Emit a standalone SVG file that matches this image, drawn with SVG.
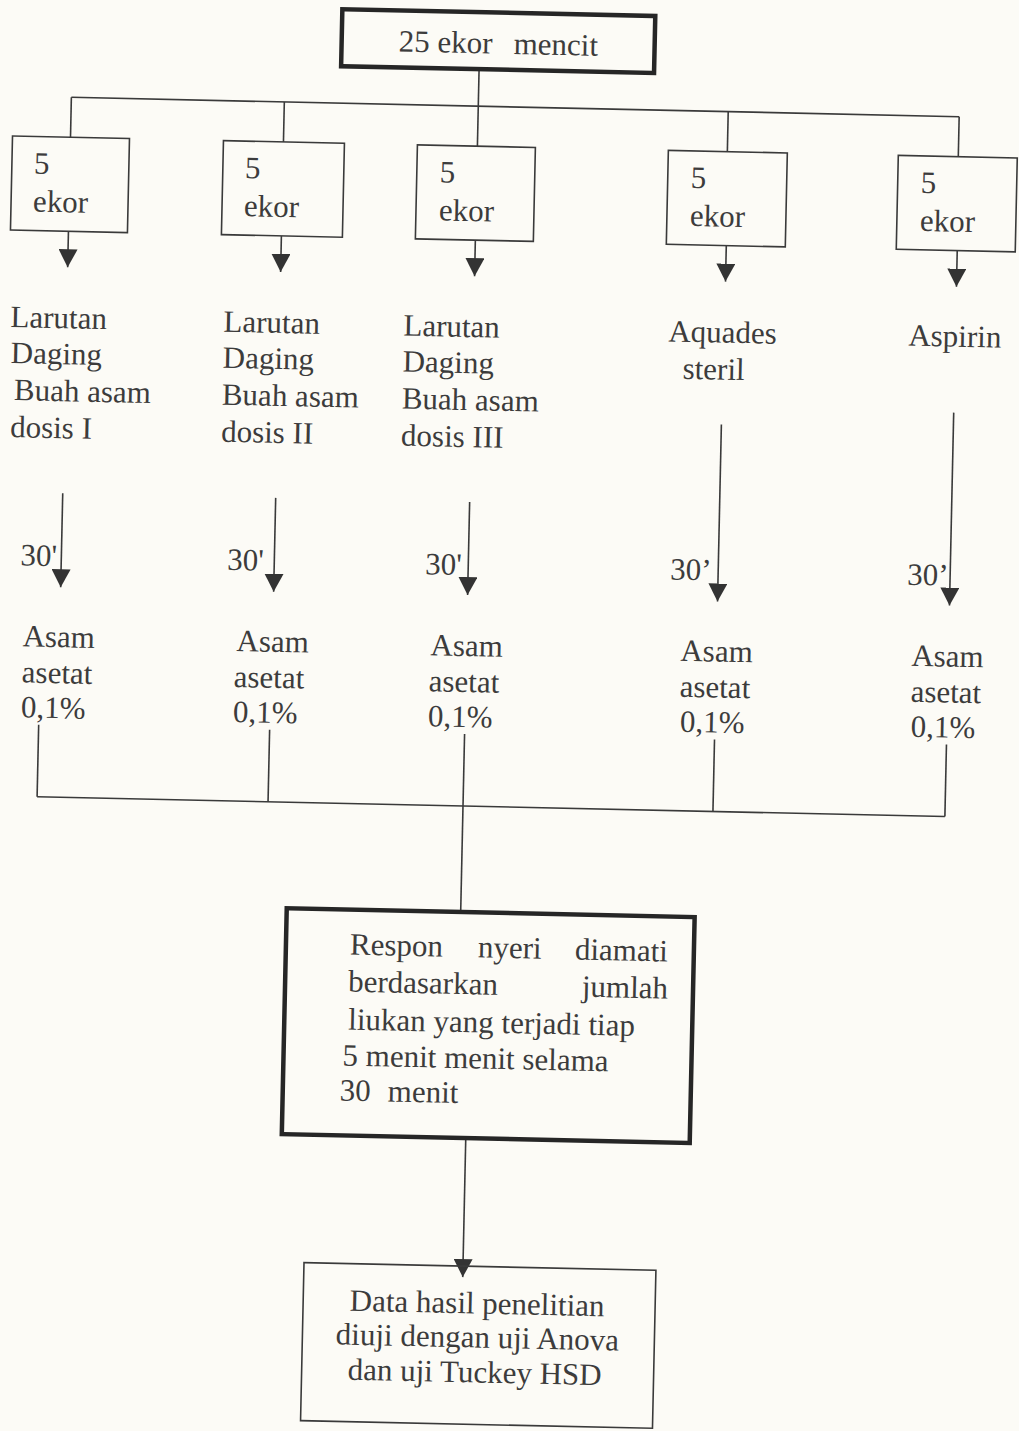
<svg xmlns="http://www.w3.org/2000/svg" width="1019" height="1431" viewBox="0 0 1019 1431">
<style>
.t{font-family:"Liberation Serif","Times New Roman",serif;font-size:31px;fill:#3c3c3c}
.box{fill:none;stroke:#3a3a3a;stroke-width:1.6}
.thick{fill:none;stroke:#262626;stroke-width:4.5}
.ln{fill:none;stroke:#3a3a3a;stroke-width:1.6}
.ar{fill:none;stroke:#3a3a3a;stroke-width:1.6;marker-end:url(#ah)}
</style>
<defs>
<marker id="ah" markerUnits="userSpaceOnUse" markerWidth="19" markerHeight="19" refX="18" refY="9.5" orient="auto">
<path d="M0,0 L18,9.5 L0,19 z" fill="#333"/>
</marker>
</defs>
<rect x="0" y="0" width="1019" height="1431" fill="#fcfbf6"/>
<g transform="rotate(1.25 509 715)">
<g id="connectors">
<line class="ln" x1="465" y1="70" x2="465" y2="107"/>
<line class="ln" x1="58" y1="107" x2="946" y2="107"/>
<line class="ln" x1="58" y1="107" x2="58" y2="147"/>
<line class="ln" x1="271" y1="107" x2="271" y2="147"/>
<line class="ln" x1="465" y1="107" x2="465" y2="147"/>
<line class="ln" x1="715" y1="107" x2="715" y2="147"/>
<line class="ln" x1="946" y1="107" x2="946" y2="147"/>
<line class="ar" x1="58" y1="241" x2="58" y2="277"/>
<line class="ar" x1="271" y1="241" x2="271" y2="277"/>
<line class="ar" x1="465" y1="241" x2="465" y2="277"/>
<line class="ar" x1="716" y1="241" x2="716" y2="277"/>
<line class="ar" x1="947" y1="241" x2="947" y2="277"/>
<line class="ar" x1="58" y1="503" x2="58" y2="597"/>
<line class="ar" x1="271" y1="503" x2="271" y2="597"/>
<line class="ar" x1="465" y1="503" x2="465" y2="596"/>
<line class="ar" x1="715" y1="420" x2="715" y2="597"/>
<line class="ar" x1="947" y1="403" x2="947" y2="596"/>
<line class="ln" x1="39" y1="735" x2="39" y2="807"/>
<line class="ln" x1="270" y1="735" x2="270" y2="807"/>
<line class="ln" x1="465" y1="735" x2="465" y2="913"/>
<line class="ln" x1="715" y1="735" x2="715" y2="807"/>
<line class="ln" x1="947" y1="735" x2="947" y2="807"/>
<line class="ln" x1="39" y1="807" x2="947" y2="807"/>
<line class="ar" x1="475" y1="1139" x2="475" y2="1278"/>
</g>
<g id="n-top">
<rect class="thick" x="327" y="13" width="313" height="57"/>
<text class="t" y="54"><tspan x="384">25 ekor</tspan><tspan x="499">mencit</tspan></text>
</g>
<g id="n-g1">
<rect class="box" x="0" y="147" width="117" height="94"/>
<text class="t" x="22" y="184">5</text>
<text class="t" x="22" y="222">ekor</text>
</g>
<g id="n-g2">
<rect class="box" x="211" y="147" width="121" height="94"/>
<text class="t" x="233" y="184">5</text>
<text class="t" x="233" y="222">ekor</text>
</g>
<g id="n-g3">
<rect class="box" x="405" y="147" width="118" height="94"/>
<text class="t" x="428" y="184">5</text>
<text class="t" x="428" y="222">ekor</text>
</g>
<g id="n-g4">
<rect class="box" x="656" y="147" width="119" height="94"/>
<text class="t" x="679" y="184">5</text>
<text class="t" x="679" y="222">ekor</text>
</g>
<g id="n-g5">
<rect class="box" x="886" y="147" width="119" height="94"/>
<text class="t" x="909" y="184">5</text>
<text class="t" x="909" y="222">ekor</text>
</g>
<g id="n-treat1">
<text class="t" x="2" y="338">Larutan</text>
<text class="t" x="3" y="374">Daging</text>
<text class="t" x="7" y="411">Buah asam</text>
<text class="t" x="4" y="448">dosis I</text>
</g>
<g id="n-treat2">
<text class="t" x="215" y="338">Larutan</text>
<text class="t" x="215" y="374">Daging</text>
<text class="t" x="215" y="411">Buah asam</text>
<text class="t" x="215" y="448">dosis II</text>
</g>
<g id="n-treat3">
<text class="t" x="395" y="338">Larutan</text>
<text class="t" x="395" y="374">Daging</text>
<text class="t" x="395" y="411">Buah asam</text>
<text class="t" x="395" y="448">dosis III</text>
</g>
<g id="n-treat4">
<text class="t" x="660" y="338">Aquades</text>
<text class="t" x="675" y="375">steril</text>
</g>
<g id="n-treat5">
<text class="t" x="900" y="337">Aspirin</text>
</g>
<g id="n-time">
<text class="t" x="17" y="576">30'</text>
<text class="t" x="224" y="576">30'</text>
<text class="t" x="422" y="576">30'</text>
<text class="t" x="667" y="576">30’</text>
<text class="t" x="904" y="576">30’</text>
</g>
<g id="n-acid1">
<text class="t" x="21" y="657">Asam</text>
<text class="t" x="21" y="693">asetat</text>
<text class="t" x="21" y="728">0,1%</text>
</g>
<g id="n-acid2">
<text class="t" x="235" y="657">Asam</text>
<text class="t" x="233" y="693">asetat</text>
<text class="t" x="233" y="728">0,1%</text>
</g>
<g id="n-acid3">
<text class="t" x="429" y="657">Asam</text>
<text class="t" x="428" y="693">asetat</text>
<text class="t" x="428" y="728">0,1%</text>
</g>
<g id="n-acid4">
<text class="t" x="679" y="657">Asam</text>
<text class="t" x="679" y="693">asetat</text>
<text class="t" x="680" y="728">0,1%</text>
</g>
<g id="n-acid5">
<text class="t" x="910" y="657">Asam</text>
<text class="t" x="910" y="693">asetat</text>
<text class="t" x="911" y="728">0,1%</text>
</g>
<g id="n-respon">
<rect class="thick" x="291" y="913" width="408" height="226"/>
<text class="t" y="958"><tspan x="355">Respon</tspan><tspan x="483">nyeri</tspan><tspan x="673" text-anchor="end">diamati</tspan></text>
<text class="t" y="995"><tspan x="354">berdasarkan</tspan><tspan x="674" text-anchor="end">jumlah</tspan></text>
<text class="t" x="355" y="1033">liukan yang terjadi tiap</text>
<text class="t" x="350" y="1069">5 menit menit selama</text>
<text class="t" y="1104"><tspan x="348">30</tspan><tspan x="396">menit</tspan></text>
</g>
<g id="n-data">
<rect class="box" x="316" y="1267" width="352" height="158"/>
<text class="t" x="490" y="1314" text-anchor="middle">Data hasil penelitian</text>
<text class="t" x="491" y="1348" text-anchor="middle">diuji dengan uji Anova</text>
<text class="t" x="489" y="1383" text-anchor="middle">dan uji Tuckey HSD</text>
</g>
</g>
</svg>
